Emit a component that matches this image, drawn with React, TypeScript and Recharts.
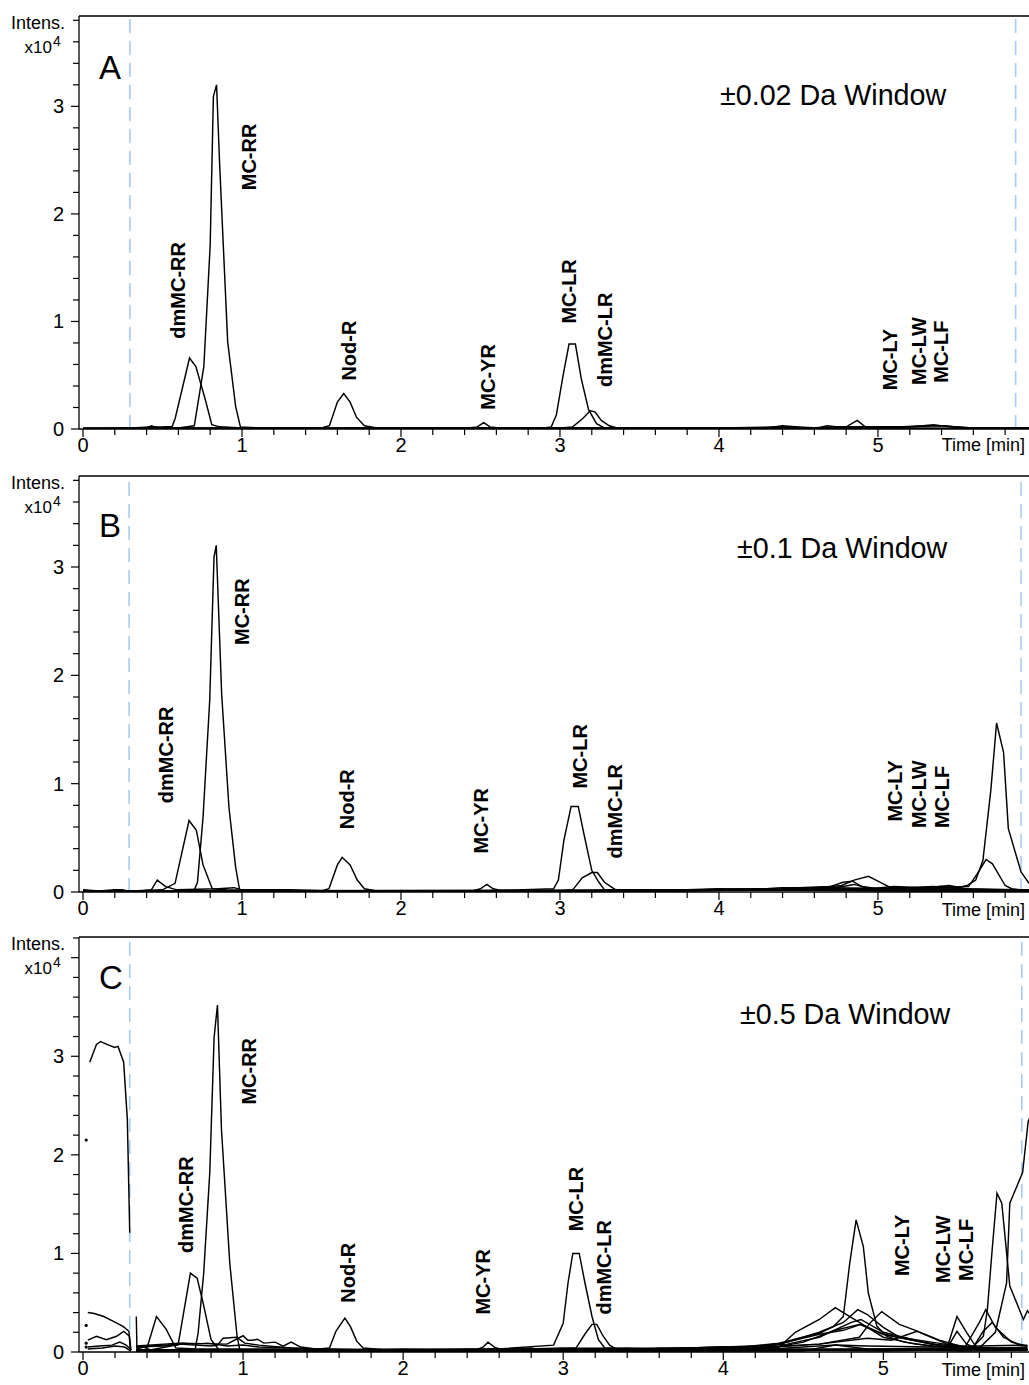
import React from 'react'
import { ComposedChart, Line, XAxis, YAxis, ReferenceLine, ReferenceDot, Label } from 'recharts'

const FONT = '"Liberation Sans", Arial, Helvetica, sans-serif'

// axis ticks (x: minutes, y: intensity x10^4)
const X_TICKS = [0, 0.2, 0.4, 0.6, 0.8, 1, 1.2, 1.4, 1.6, 1.8, 2, 2.2, 2.4, 2.6, 2.8, 3, 3.2, 3.4, 3.6, 3.8, 4, 4.2, 4.4, 4.6, 4.8, 5, 5.2, 5.4, 5.6, 5.8]
const Y_TICKS_AB = [0, 0.2, 0.4, 0.6, 0.8, 1, 1.2, 1.4, 1.6, 1.8, 2, 2.2, 2.4, 2.6, 2.8, 3, 3.2, 3.4, 3.6, 3.8]
const Y_TICKS_C = [0, 0.2, 0.4, 0.6, 0.8, 1, 1.2, 1.4, 1.6, 1.8, 2, 2.2, 2.4, 2.6, 2.8, 3, 3.2, 3.4, 3.6, 3.8, 4, 4.2]
const Y_LABELS = [0, 1, 2, 3]

// ---- panel A : ±0.02 Da window  [time, intensity]
const A_MCRR = [[0,0.01],[0.2,0],[0.3,0.01],[0.45,0.02],[0.6,0.01],[0.7,0.03],[0.76,0.58],[0.8,1.71],[0.82,3.09],[0.84,3.2],[0.86,2.44],[0.91,0.81],[0.96,0.21],[0.99,0.02],[1.1,0.01],[1.4,0],[1.8,0.01],[2.3,0],[2.8,0.01],[3.4,0],[3.9,0.01],[4.4,0.01],[5,0.01],[5.5,0],[5.95,0.01]]
const A_DMRR = [[0,0],[0.15,0.01],[0.4,0.01],[0.43,0.03],[0.47,0.01],[0.52,0.02],[0.56,0.02],[0.58,0.1],[0.67,0.66],[0.71,0.58],[0.77,0.27],[0.81,0.04],[0.86,0.02],[1,0.01],[1.3,0.01],[2,0],[3,0.01],[4,0],[5,0.01],[5.95,0]]
const A_NODR = [[0,0],[0.5,0.01],[1,0.01],[1.5,0.01],[1.55,0.03],[1.6,0.25],[1.64,0.33],[1.68,0.25],[1.72,0.11],[1.77,0.03],[1.85,0.01],[2.5,0],[3.5,0.01],[4.5,0],[5.95,0.01]]
const A_MCYR = [[0,0],[1,0],[2,0.01],[2.42,0.01],[2.48,0.02],[2.52,0.06],[2.56,0.02],[2.62,0.01],[3,0],[4,0.01],[5.95,0]]
const A_MCLR = [[0,0],[1.5,0],[2.9,0.01],[2.945,0.02],[2.977,0.13],[3.02,0.5],[3.057,0.79],[3.097,0.79],[3.135,0.46],[3.18,0.18],[3.23,0.05],[3.28,0.01],[3.6,0.01],[4.2,0],[5.95,0]]
const A_DMLR = [[0,0],[2,0],[3,0.01],[3.08,0.02],[3.145,0.1],[3.19,0.17],[3.22,0.16],[3.26,0.08],[3.31,0.03],[3.36,0.01],[4,0],[5.95,0]]
const A_MCLY = [[0,0],[3.8,0.01],[4.3,0.01],[4.4,0.03],[4.5,0.02],[4.62,0.01],[4.68,0.03],[4.75,0.02],[4.8,0.02],[4.87,0.08],[4.92,0.02],[5,0.01],[5.2,0.02],[5.35,0.04],[5.45,0.02],[5.6,0.01],[5.95,0]]
const A_MCLW = [[0,0.01],[4,0.01],[4.4,0.02],[4.55,0.01],[4.8,0.02],[5,0.01],[5.15,0.02],[5.3,0.03],[5.42,0.03],[5.55,0.01],[5.95,0.01]]
const A_MCLF = [[0,0],[4.2,0.01],[4.6,0.01],[4.9,0.02],[5.2,0.02],[5.38,0.03],[5.5,0.02],[5.7,0],[5.95,0]]

// ---- panel B : ±0.1 Da window
const B_MCRR = [[0,0.01],[0.2,0.01],[0.4,0],[0.6,0.01],[0.7,0.02],[0.72,0.09],[0.755,0.69],[0.797,1.77],[0.824,3.09],[0.838,3.2],[0.872,1.83],[0.918,0.78],[0.96,0.23],[0.985,0.02],[1.2,0.01],[1.6,0.01],[2.2,0],[2.8,0.01],[3.5,0.01],[4,0.02],[4.5,0.03],[5,0.02],[5.5,0.02],[5.95,0.01]]
const B_DMRR = [[0,0],[0.3,0.01],[0.5,0.02],[0.579,0.08],[0.667,0.66],[0.713,0.57],[0.755,0.25],[0.813,0.03],[0.9,0.02],[1.2,0.01],[2.5,0],[3.5,0.01],[4.2,0.02],[4.6,0.03],[5,0.02],[5.95,0.01]]
const B_X047 = [[0,0.02],[0.1,0.01],[0.2,0.02],[0.25,0.02],[0.3,0],[0.43,0.02],[0.467,0.11],[0.52,0.05],[0.59,0.02],[0.85,0.03],[0.95,0.04],[1,0.02],[1.3,0.02],[1.6,0.01],[2,0.01],[3,0.01],[3.9,0.02],[4.3,0.03],[4.7,0.04],[5.2,0.03],[5.6,0.02],[5.95,0.01]]
const B_NODR = [[0,0],[1,0],[1.5,0.01],[1.547,0.03],[1.6,0.25],[1.63,0.32],[1.68,0.25],[1.725,0.11],[1.77,0.03],[1.85,0.01],[2.6,0.01],[3.8,0.02],[5.95,0.01]]
const B_MCYR = [[0,0],[2,0.01],[2.45,0.01],[2.5,0.03],[2.54,0.07],[2.58,0.03],[2.64,0.01],[3.2,0.01],[4.5,0.02],[5.95,0]]
const B_MCLR = [[0,0],[2.5,0.01],[2.96,0.03],[2.99,0.11],[3.025,0.48],[3.07,0.79],[3.115,0.79],[3.15,0.54],[3.2,0.2],[3.245,0.09],[3.28,0.02],[3.6,0.01],[4.2,0.02],[5.95,0]]
const B_DMLR = [[0,0],[3,0.01],[3.08,0.02],[3.14,0.13],[3.2,0.18],[3.235,0.18],[3.28,0.09],[3.32,0.05],[3.36,0.01],[3.9,0.02],[4.4,0.03],[5.95,0.01]]
const B_MCLY = [[0,0.01],[3.6,0.01],[3.8,0.02],[4,0.03],[4.2,0.02],[4.4,0.04],[4.6,0.04],[4.7,0.05],[4.78,0.09],[4.84,0.1],[4.9,0.05],[5,0.03],[5.2,0.04],[5.35,0.05],[5.5,0.03],[5.6,0.02],[5.95,0.01]]
const B_MCLW = [[0,0],[3.8,0.01],[4.2,0.02],[4.5,0.04],[4.7,0.05],[4.77,0.06],[4.85,0.11],[4.94,0.145],[5,0.1],[5.08,0.04],[5.25,0.04],[5.4,0.05],[5.5,0.03],[5.95,0.01]]
const B_MCLF = [[0,0.01],[3.9,0.02],[4.3,0.03],[4.6,0.02],[4.78,0.05],[4.85,0.07],[4.95,0.03],[5.1,0.05],[5.3,0.04],[5.45,0.06],[5.55,0.03],[5.95,0.02]]
const B_PK1 = [[0,0.01],[1,0.01],[2,0.01],[3,0.01],[4,0.02],[4.5,0.02],[5,0.03],[5.3,0.03],[5.5,0.04],[5.56,0.06],[5.615,0.11],[5.66,0.29],[5.71,0.94],[5.746,1.56],[5.79,1.29],[5.82,0.585],[5.9,0.185],[5.95,0.08]]
const B_PK2 = [[0,0],[3,0.01],[4,0.02],[5,0.03],[5.57,0.05],[5.625,0.17],[5.68,0.3],[5.72,0.26],[5.8,0.06],[5.84,0.03],[5.95,0.01]]

// ---- panel C : ±0.5 Da window
const C_L1 = [[0.042,2.94],[0.084,3.12],[0.11,3.15],[0.15,3.12],[0.198,3.09],[0.219,3.1],[0.254,2.94],[0.277,2.36],[0.292,1.21]]
const C_L2 = [[0.03,0.4],[0.07,0.39],[0.13,0.36],[0.19,0.31],[0.25,0.26],[0.287,0.21],[0.295,0.03]]
const C_L3 = [[0.03,0.12],[0.084,0.16],[0.146,0.125],[0.21,0.16],[0.254,0.21],[0.29,0.16],[0.3,0.02]]
const C_L4 = [[0.03,0.05],[0.1,0.06],[0.18,0.07],[0.23,0.1],[0.27,0.07],[0.3,0.02]]
const C_L5 = [[0.03,0.03],[0.12,0.04],[0.2,0.06],[0.26,0.05],[0.3,0.01]]
const C_DOTS = [[0.02,2.15],[0.02,0.27],[0.02,0.09],[0.02,0.05]]
const C_SPK = [[0.333,0.36],[0.337,0.03],[0.38,0.05],[0.42,0.02],[0.55,0.06],[0.62,0.09],[0.7,0.08],[0.78,0.09],[0.9,0.06],[1,0.07],[1.1,0.05],[1.3,0.04],[1.5,0.02],[2,0.03],[2.5,0.02],[3,0.04],[3.5,0.03],[4,0.05],[4.3,0.06],[4.45,0.12],[4.6,0.18],[4.75,0.22],[4.86,0.28],[5,0.18],[5.3,0.08],[5.5,0.05],[5.7,0.04],[5.9,0.05]]
const C_X047 = [[0.333,0.02],[0.396,0.02],[0.459,0.36],[0.52,0.23],[0.58,0.04],[0.7,0.03],[0.9,0.03],[1.2,0.03],[1.6,0.02],[2.2,0.02],[2.8,0.03],[3.4,0.02],[3.9,0.04],[4.35,0.05],[4.45,0.2],[4.6,0.33],[4.7,0.45],[4.75,0.4],[4.85,0.3],[5,0.15],[5.2,0.08],[5.5,0.03],[5.75,0.02],[5.9,0.03]]
const C_DMRR = [[0.333,0.05],[0.5,0.06],[0.594,0.07],[0.671,0.8],[0.713,0.75],[0.75,0.5],[0.8,0.125],[0.85,0.02],[1,0.02],[1.3,0.02],[2,0.01],[3,0.02],[3.8,0.03],[4.2,0.05],[4.4,0.1],[4.6,0.2],[4.75,0.3],[4.84,0.43],[4.9,0.38],[5,0.25],[5.1,0.15],[5.3,0.1],[5.5,0.05],[5.9,0.02]]
const C_MCRR = [[0.333,0.02],[0.6,0.02],[0.7,0.02],[0.719,0.19],[0.754,0.8],[0.792,1.82],[0.819,3.19],[0.84,3.52],[0.865,2.26],[0.917,0.9],[0.9625,0.16],[0.98,0.02],[1.2,0.02],[1.6,0.01],[2.2,0.02],[3,0.01],[3.8,0.03],[4.3,0.04],[4.5,0.1],[4.7,0.22],[4.85,0.28],[5,0.18],[5.3,0.08],[5.6,0.03],[5.9,0.02]]
const C_PLAT = [[0.333,0.05],[0.6,0.08],[0.8,0.06],[0.84,0.07],[0.875,0.14],[0.96,0.15],[1.01,0.09],[1.1,0.07],[1.3,0.04],[1.5,0.03],[2,0.02],[2.6,0.03],[3.2,0.02],[3.8,0.04],[4.2,0.06],[4.4,0.08],[4.6,0.15],[4.8,0.3],[4.86,0.33],[5,0.2],[5.2,0.12],[5.4,0.05],[5.6,0.03],[5.9,0.04]]
const C_BMP1 = [[0.333,0.06],[0.6,0.09],[0.9,0.08],[1,0.165],[1.03,0.12],[1.06,0.12],[1.09,0.13],[1.13,0.09],[1.2,0.1],[1.25,0.06],[1.3,0.1],[1.36,0.05],[1.45,0.03],[1.8,0.02],[2.4,0.03],[2.9,0.02],[3.5,0.03],[4,0.04],[4.4,0.06],[4.6,0.08],[4.85,0.15],[4.92,0.3],[4.99,0.41],[5.1,0.28],[5.2,0.22],[5.35,0.12],[5.5,0.05],[5.7,0.03],[5.9,0.03]]
const C_NODR = [[0.333,0.02],[1,0.02],[1.4,0.02],[1.54,0.04],[1.58,0.21],[1.636,0.345],[1.67,0.26],[1.71,0.11],[1.75,0.04],[1.9,0.02],[2.5,0.02],[3.2,0.03],[3.9,0.02],[4.3,0.05],[4.6,0.08],[4.9,0.14],[5.05,0.12],[5.21,0.21],[5.4,0.08],[5.6,0.04],[5.9,0.03]]
const C_MCYR = [[0.333,0.01],[1,0.01],[2,0.02],[2.45,0.02],[2.5,0.05],[2.53,0.1],[2.57,0.05],[2.62,0.02],[2.8,0.04],[2.85,0.02],[3,0.03],[3.4,0.04],[3.6,0.03],[4,0.05],[4.3,0.03],[4.7,0.07],[4.9,0.03],[5.2,0.02],[5.5,0.01],[5.9,0.02]]
const C_MCLR = [[0.333,0.01],[1.5,0.01],[2.5,0.02],[2.94,0.07],[3,0.29],[3.03,0.7],[3.06,1],[3.1,1],[3.136,0.7],[3.18,0.36],[3.22,0.125],[3.26,0.04],[3.5,0.02],[4,0.03],[4.5,0.02],[5,0.01],[5.3,0.02],[5.4,0.05],[5.46,0.36],[5.52,0.2],[5.58,0.05],[5.7,0.02],[5.9,0.02]]
const C_DMLR = [[0.333,0.02],[2,0.02],[3,0.03],[3.08,0.04],[3.135,0.18],[3.18,0.28],[3.21,0.28],[3.25,0.16],[3.29,0.07],[3.33,0.03],[3.6,0.04],[4,0.03],[4.5,0.02],[5,0.03],[5.4,0.04],[5.46,0.21],[5.52,0.08],[5.6,0.03],[5.9,0.02]]
const C_MCLY = [[0.333,0.02],[1,0.02],[2,0.01],[3,0.02],[4,0.03],[4.35,0.09],[4.52,0.16],[4.6,0.19],[4.69,0.26],[4.75,0.36],[4.79,0.9],[4.83,1.34],[4.875,1.07],[4.906,0.6],[4.96,0.26],[5.02,0.16],[5.13,0.1],[5.3,0.06],[5.5,0.04],[5.7,0.03],[5.9,0.03]]
const C_MCLW = [[0.333,0.02],[2,0.02],[4,0.03],[5.3,0.03],[5.5,0.02],[5.6,0.3],[5.64,0.43],[5.7,0.25],[5.8,0.1],[5.9,0.06]]
const C_MCLF = [[0.333,0.01],[2.5,0.01],[4.5,0.02],[5.4,0.02],[5.55,0.02],[5.62,0.2],[5.68,0.3],[5.75,0.15],[5.85,0.07],[5.9,0.06]]
const C_PK1 = [[0.333,0.01],[3,0.01],[5,0.02],[5.4,0.03],[5.56,0.05],[5.625,0.16],[5.65,0.43],[5.68,1.04],[5.71,1.61],[5.74,1.51],[5.79,0.67],[5.875,0.33],[5.9,0.42],[5.93,0.35]]
const C_PK2 = [[0.333,0.01],[3,0.01],[5.3,0.02],[5.6,0.04],[5.7,0.2],[5.77,0.7],[5.79,1.51],[5.87,1.82],[5.905,2.34],[5.95,2.5]]
const C_FLAT = [[0.333,0.0],[2,0.01],[4.5,0.01],[4.7,0.07],[4.9,0.06],[5.3,0.05],[5.6,0.06],[5.9,0.07]]

// peak annotations: name, time, intensity at the foot of the rotated label
const A_PEAKS = [
  { text: 'dmMC-RR', t: 0.64, v: 0.84 }, { text: 'MC-RR', t: 1.086, v: 2.22 },
  { text: 'Nod-R', t: 1.715, v: 0.45 }, { text: 'MC-YR', t: 2.59, v: 0.18 },
  { text: 'MC-LR', t: 3.1, v: 0.98 }, { text: 'dmMC-LR', t: 3.33, v: 0.39 },
  { text: 'MC-LY', t: 5.12, v: 0.36 }, { text: 'MC-LW', t: 5.3, v: 0.41 }, { text: 'MC-LF', t: 5.44, v: 0.43 },
]
const B_PEAKS = [
  { text: 'dmMC-RR', t: 0.566, v: 0.82 }, { text: 'MC-RR', t: 1.044, v: 2.28 },
  { text: 'Nod-R', t: 1.704, v: 0.58 }, { text: 'MC-YR', t: 2.55, v: 0.355 },
  { text: 'MC-LR', t: 3.172, v: 0.955 }, { text: 'dmMC-LR', t: 3.392, v: 0.31 },
  { text: 'MC-LY', t: 5.153, v: 0.65 }, { text: 'MC-LW', t: 5.3, v: 0.59 }, { text: 'MC-LF', t: 5.447, v: 0.59 },
]
const C_PEAKS = [
  { text: 'dmMC-RR', t: 0.6875, v: 1.005 }, { text: 'MC-RR', t: 1.084, v: 2.51 },
  { text: 'Nod-R', t: 1.7, v: 0.5 }, { text: 'MC-YR', t: 2.54, v: 0.38 },
  { text: 'MC-LR', t: 3.125, v: 1.224 }, { text: 'dmMC-LR', t: 3.3, v: 0.38 },
  { text: 'MC-LY', t: 5.1625, v: 0.77 }, { text: 'MC-LW', t: 5.417, v: 0.7 }, { text: 'MC-LF', t: 5.559, v: 0.72 },
]

const A_TRACES = [A_MCRR, A_DMRR, A_NODR, A_MCYR, A_MCLR, A_DMLR, A_MCLY, A_MCLW, A_MCLF]
const B_TRACES = [B_MCRR, B_DMRR, B_X047, B_NODR, B_MCYR, B_MCLR, B_DMLR, B_MCLY, B_MCLW, B_MCLF, B_PK1, B_PK2]
const C_TRACES = [C_L1, C_L2, C_L3, C_L4, C_L5, C_SPK, C_X047, C_DMRR, C_MCRR, C_PLAT, C_BMP1, C_NODR, C_MCYR, C_MCLR, C_DMLR, C_MCLY, C_MCLW, C_MCLF, C_PK1, C_PK2, C_FLAT]

const toPts = (a: number[][]) => a.map(([t, v]) => ({ t, v }))
const DASH = '#a3cdf2'

const YTick = (p: any) => {
  const { x, y, payload } = p
  const v = payload.value
  const major = Math.abs(v - Math.round(v)) < 1e-6
  const shown = Y_LABELS.some((l) => Math.abs(l - v) < 1e-6)
  return (
    <g>
      <line x1={x - (major ? 8 : 6)} x2={x} y1={y} y2={y} stroke="#000" strokeWidth={1.2} />
      {shown && <text x={x - 15} y={y + 7} textAnchor="end" fontSize={20} fontFamily={FONT} fill="#000">{v}</text>}
    </g>
  )
}

const XTick = (p: any) => {
  const { x, y, payload } = p
  const v = payload.value
  const major = Math.abs(v - Math.round(v)) < 1e-6
  return (
    <g>
      <line x1={x} x2={x} y1={y} y2={y + (major ? 8 : 6)} stroke="#000" strokeWidth={1.2} />
      {major && <text x={x} y={y + 23} textAnchor="middle" fontSize={20} fontFamily={FONT} fill="#000">{v}</text>}
    </g>
  )
}

const PeakLabel = (p: any) => {
  const { x, y } = p.viewBox
  return (
    <text x={x} y={y} transform={`rotate(-90 ${x} ${y})`} fontSize={20} fontWeight="bold" fontFamily={FONT} fill="#000">
      {p.value}
    </text>
  )
}

type PanelProps = {
  traces: number[][][]
  peaks: { text: string; t: number; v: number }[]
  yTicks: number[]
  yMax: number
  xMax: number
  dashes: number[]
  letter: string
  letterDy: number
  windowText: string
  winX: number
  winDy: number
  top: number
  height: number
  xAxisH: number
  timeDy: number
  dots?: number[][]
}

function Panel(props: PanelProps) {
  const { traces, peaks, yTicks, yMax, xMax, dashes, letter, letterDy, windowText, winX, winDy, top, height, xAxisH, timeDy, dots } = props

  const panelText = (lp: any) => {
    const t = lp.viewBox.y
    return (
      <g fontFamily={FONT} fill="#000">
        <text x={65} y={t + 13} textAnchor="end" fontSize={18}>Intens.</text>
        <text x={52} y={t + 37} textAnchor="end" fontSize={17}>x10</text>
        <text x={53} y={t + 30} fontSize={14}>4</text>
        <text x={99} y={t + letterDy} fontSize={33}>{letter}</text>
        <text x={winX} y={t + winDy} fontSize={28.7}>{windowText}</text>
      </g>
    )
  }

  const timeText = (lp: any) => {
    const vb = lp.viewBox
    return (
      <text x={vb.x + vb.width - 4} y={vb.y + timeDy} textAnchor="end" fontSize={18} fontFamily={FONT} fill="#000">
        Time [min]
      </text>
    )
  }

  return (
    <div style={{ position: 'absolute', left: 0, top, width: 1029, height }}>
      <ComposedChart width={1029} height={height} margin={{ top: 16, right: 0, left: 0, bottom: 0 }}>
        <XAxis
          type="number" dataKey="t" domain={[0, xMax]} allowDataOverflow
          ticks={X_TICKS} interval={0} tickSize={0} tickMargin={0} tick={XTick}
          axisLine={{ stroke: '#000', strokeWidth: 1.3 }} height={xAxisH}
          padding={{ left: 4, right: 0 }}
          label={<Label content={timeText} />}
        />
        <YAxis
          type="number" domain={[0, yMax]} allowDataOverflow
          ticks={yTicks} interval={0} tickSize={0} tickMargin={0} tick={YTick}
          axisLine={{ stroke: '#000', strokeWidth: 1.3 }} width={79}
          label={<Label content={panelText} />}
        />
        <ReferenceLine y={yMax} stroke="#000" strokeWidth={1.3} ifOverflow="visible" />
        {dashes.map((d, i) => (
          <ReferenceLine key={'d' + i} x={d} stroke={DASH} strokeWidth={1.6} strokeDasharray="14 8" />
        ))}
        {traces.map((tr, i) => (
          <Line key={i} data={toPts(tr)} dataKey="v" type="linear" stroke="#000" strokeWidth={1.45}
            dot={false} activeDot={false} isAnimationActive={false} />
        ))}
        {dots && dots.map((d, i) => (
          <Line key={'p' + i} data={toPts([d])} dataKey="v" stroke="none"
            dot={{ r: 1.6, fill: '#000', stroke: 'none' }} isAnimationActive={false} />
        ))}
        {peaks.map((pk) => (
          <ReferenceDot key={pk.text} x={pk.t} y={pk.v} r={0} fill="none" stroke="none"
            label={<Label value={pk.text} content={PeakLabel} />} />
        ))}
      </ComposedChart>
    </div>
  )
}

export default function App() {
  return (
    <div style={{ position: 'absolute', left: 0, top: 0, width: 1029, height: 1385, background: '#fff' }}>
      <Panel traces={A_TRACES} peaks={A_PEAKS} yTicks={Y_TICKS_AB} yMax={3.84} xMax={5.95}
        dashes={[0.295, 5.866]} letter="A" letterDy={63} windowText="±0.02 Da Window" winX={720} winDy={89}
        top={0} height={460} xAxisH={31} timeDy={22} />
      <Panel traces={B_TRACES} peaks={B_PEAKS} yTicks={Y_TICKS_AB} yMax={3.84} xMax={5.95}
        dashes={[0.29, 5.9]} letter="B" letterDy={61} windowText="±0.1 Da Window" winX={737} winDy={82}
        top={460} height={462} xAxisH={30} timeDy={24} />
      <Panel traces={C_TRACES} peaks={C_PEAKS} yTicks={Y_TICKS_C} yMax={4.21} xMax={5.91}
        dashes={[0.292, 5.865]} letter="C" letterDy={52} windowText="±0.5 Da Window" winX={740} winDy={87}
        top={921} height={464} xAxisH={33} timeDy={24} dots={C_DOTS} />
    </div>
  )
}
